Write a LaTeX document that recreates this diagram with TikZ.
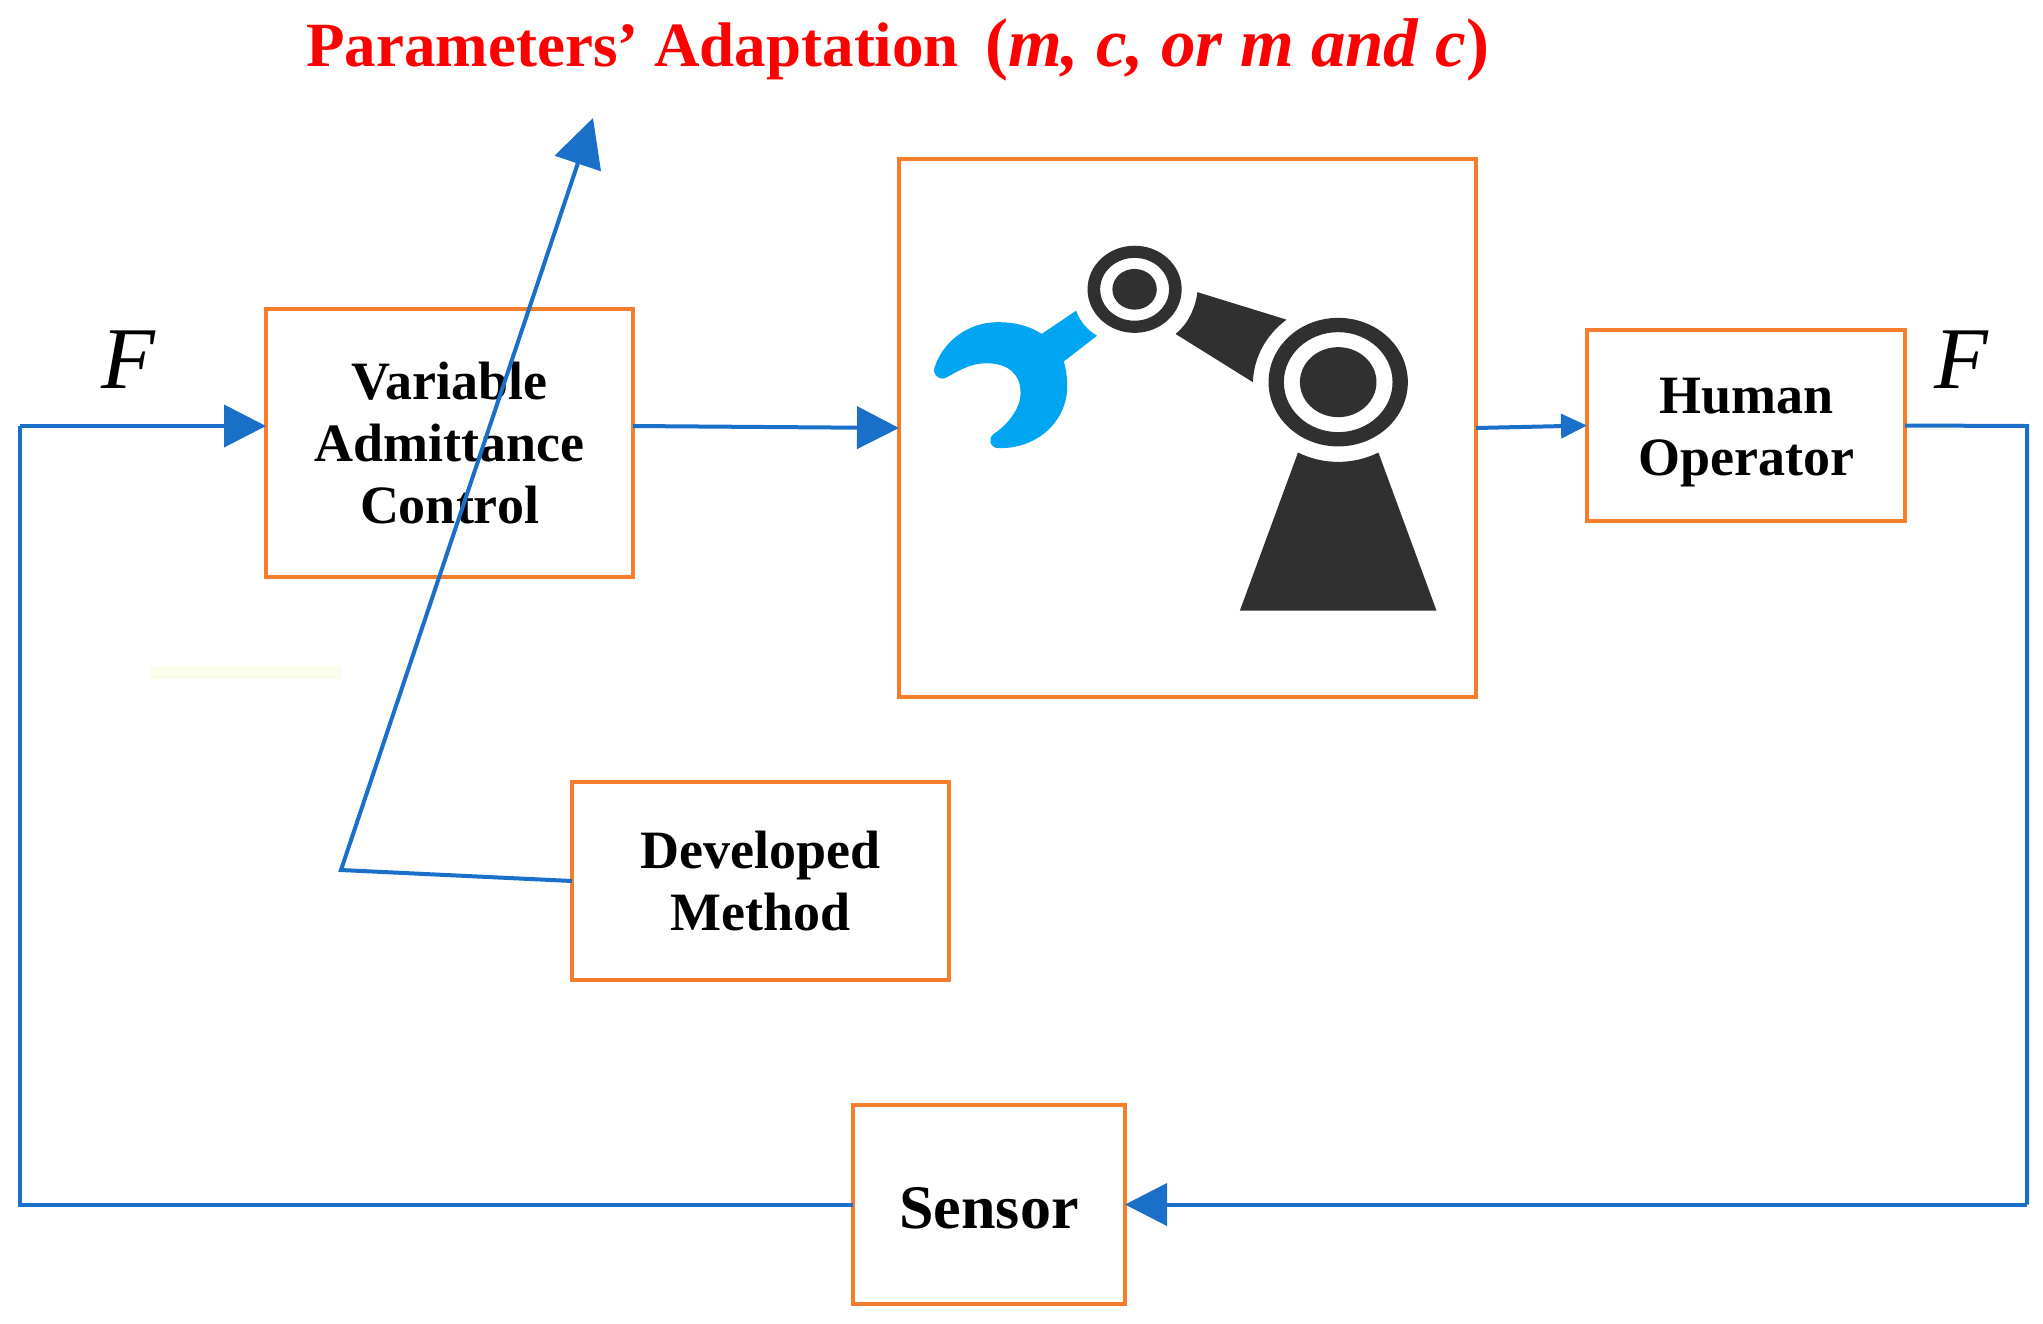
\documentclass[tikz,border=0pt]{standalone}
\usepackage{fontspec}
\setmainfont{Liberation Serif}
\usetikzlibrary{arrows.meta}
\definecolor{boxorange}{HTML}{F57D2C}
\definecolor{linkblue}{HTML}{1A6FC9}
\definecolor{armdark}{HTML}{303030}
\definecolor{gripblue}{HTML}{00A5F2}
\definecolor{palebar}{HTML}{FBFDEB}
\tikzset{
  box/.style={draw=boxorange,line width=2.4pt,fill=none,inner sep=0pt,outer sep=0pt,align=center,
    font=\fontsize{27}{31}\selectfont\bfseries},
  boxtext/.style={inner sep=0pt,align=center,font=\fontsize{27}{31}\selectfont\bfseries},
  conn/.style={draw=linkblue,line width=2pt,line join=miter},
  bigtip/.style={-{Triangle[length=21pt,width=21pt]}},
  toptip/.style={-{Triangle[length=24pt,width=24pt]}},
  smalltip/.style={-{Triangle[length=13pt,width=12pt]}},
  sym/.style={inner sep=0pt,font=\fontsize{44}{48}\selectfont\itshape},
  titletext/.style={inner sep=0pt,anchor=west,text=red,font=\fontsize{31.5}{36}\selectfont\bfseries},
}
\begin{document}
\begin{tikzpicture}[x=0.5pt,y=-0.5pt]
\useasboundingbox[fill=white] (0,0) rectangle (2043,1323);
\fill[palebar] (151,666) rectangle (341,679);
% boxes
\node[box,minimum width=183.5pt,minimum height=134pt] (vac) at (449.5,443) {Variable\\Admittance\\Control};
\node[box,minimum width=288.5pt,minimum height=269pt] (rob) at (1187.5,428) {};
\node[box,minimum width=159pt,minimum height=95.5pt] (hum) at (1746,425.5) {};
\node[boxtext] (humtext) at (1746,433) {Human\\Operator};
\node[box,minimum width=188.5pt,minimum height=99pt] (dev) at (760.5,881) {Developed\\Method};
\node[box,minimum width=136pt,minimum height=99.5pt] (sen) at (989,1204.5) {};
\node[boxtext,font=\fontsize{31}{35}\selectfont\bfseries] (sentext) at (989,1208) {Sensor};
% labels
\node[titletext] (title) at (306,50) {Parameters’ Adaptation \,{\fontsize{34.5}{36}\selectfont(\textit{m, c, or m and c})}};
\node[sym] (fl) at (128,360) {F};
\node[sym] (fr) at (1961,360) {F};
% free ends
\coordinate (kink) at (341,870);
\coordinate (tip) at (593,118);
\coordinate (cl) at (20,426);
\coordinate (cb) at (20,1204.5);
\coordinate (cr) at (2027,426);
\coordinate (crb) at (2027,1204.5);
% connectors
\draw[conn,bigtip] (cl) -- (vac.west |- cl);
\draw[conn] (sen.west) -- (cb) -- (cl);
\draw[conn,bigtip] (vac.east |- cl) -- (rob.west);
\draw[conn,smalltip] (rob.east) -- (hum.west);
\draw[conn] (hum.east) -- (cr) -- (crb);
\draw[conn,bigtip] (crb) -- (sen.east);
\draw[conn,toptip] (dev.west) -- (kink) -- (tip);
% robot, in the coordinates of a crop of the reference
\begin{scope}[shift={(900,150)},x=0.19135pt,y=-0.17857pt]
  \fill[gripblue] (460,450) -- (370,515) .. controls (335,490) and (295,482) .. (255,482)
    .. controls (175,482) and (110,540) .. (90,610)
    .. controls (85,630) and (100,640) .. (112,640)
    .. controls (125,640) and (170,597) .. (225,597)
    .. controls (280,597) and (315,625) .. (315,680)
    .. controls (315,725) and (280,770) .. (245,795)
    .. controls (230,805) and (232,835) .. (260,835)
    .. controls (360,835) and (437,760) .. (437,660)
    .. controls (437,635) and (433,610) .. (428,592)
    -- (515,520) .. controls (490,505) and (470,480) .. (460,450) -- cycle;
  \fill[armdark,even odd rule] (1145,650) ellipse [x radius=182pt*0.19135,y radius=180pt*0.17857]
    (1145,650) ellipse [x radius=142pt*0.19135,y radius=140pt*0.17857];
  \fill[armdark] (1145,650) ellipse [x radius=100pt*0.19135,y radius=98pt*0.17857];
  \fill[armdark,even odd rule] (613,390) ellipse [x radius=123pt*0.19135,y radius=122pt*0.17857]
    (613,390) ellipse [x radius=90pt*0.19135,y radius=88pt*0.17857];
  \fill[armdark] (613,390) ellipse [x radius=58pt*0.19135,y radius=57pt*0.17857];
  \fill[armdark] (777,398) -- (1010,475) .. controls (960,515) and (925,575) .. (922,650)
    -- (720,515) .. controls (750,490) and (772,445) .. (777,398) -- cycle;
  \fill[armdark] (1040,847) .. controls (1105,882) and (1185,882) .. (1250,847)
    -- (1402,1290) -- (888,1290) -- cycle;
\end{scope}
\end{tikzpicture}
\end{document}
